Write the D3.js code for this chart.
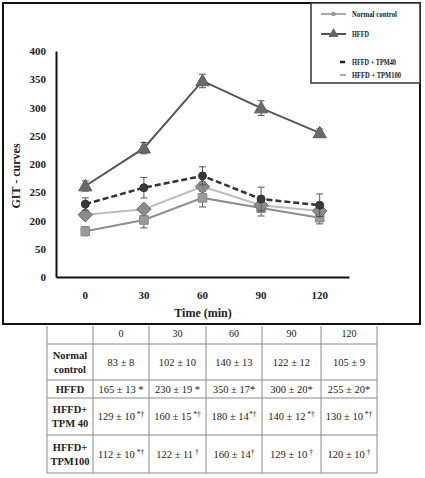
<!DOCTYPE html>
<html><head><meta charset="utf-8">
<script src="https://cdn.jsdelivr.net/npm/d3@7"></script>
<style>body{margin:0;background:#fff}svg{display:block}text{font-family:"Liberation Serif","Times New Roman",serif}</style>
</head><body><svg id="c" width="425" height="478"></svg>
<script>
const times = [0, 30, 60, 90, 120];
const timeLabels = ["0", "30", "60", "90", "120"];
const seriesNames = ["Normal control", "HFFD", "HFFD + TPM40", "HFFD + TPM100"];
const tableRowLabels = [["Normal", "control"], ["HFFD"], ["HFFD+", "TPM 40"], ["HFFD+", "TPM100"]];
// plotted points
const normalPlot = [81, 101, 140, 122, 105];
const normalPlotErr = [8, 14, 16, 14, 11];
const hffdPlot = [161, 228, 347, 299, 255];
const hffdPlotErr = [9, 10, 12, 13, 7];
const tpm40Plot = [129, 158, 179, 138, 127];
const tpm40PlotErr = [11, 18, 16, 21, 20];
const tpm100Plot = [110, 120, 160, 127, 117];
const tpm100PlotErr = [6, 6, 8, 7, 6];
// table values
const normalMean = [83, 102, 140, 122, 105];
const normalErr = [8, 10, 13, 12, 9];
const hffdMean = [165, 230, 350, 300, 255];
const hffdErr = [13, 19, 17, 20, 20];
const tpm40Mean = [129, 160, 180, 140, 130];
const tpm40Err = [10, 15, 14, 12, 10];
const tpm100Mean = [112, 122, 160, 129, 120];
const tpm100Err = [10, 11, 14, 10, 10];
const normalMarks = ["", "", "", "", ""];
const hffdMarks = [" *", " *", "*", "*", "*"];
const tpm40Marks = [" *†", " *†", "*†", " *†", " *†"];
const tpm100Marks = [" *†", " †", "†", " †", " †"];
const yTickValues = [0, 50, 100, 150, 200, 250, 300, 350, 400];
const yTickLabels = ["0", "50", "200", "250", "200", "250", "300", "350", "400"];

const svg = d3.select("#c");
svg.append("rect").attr("width", 425).attr("height", 478).attr("fill", "#fff");

// outer frame
svg.append("rect").attr("x", 3).attr("y", 3).attr("width", 417).attr("height", 321)
  .attr("fill", "none").attr("stroke", "#111").attr("stroke-width", 2);

const x = d3.scaleBand().domain(times).range([56, 349]).padding(0);
const cx = t => x(t) + x.bandwidth() / 2;
const y = d3.scaleLinear().domain([0, 400]).range([277, 51]);

// axes
const yAxis = d3.axisLeft(y).tickValues(yTickValues).tickSize(0).tickPadding(10)
  .tickFormat((d, i) => yTickLabels[i]);
const gy = svg.append("g").attr("transform", "translate(56,0)").call(yAxis);
gy.select(".domain").attr("stroke", "#111").attr("stroke-width", 2);
gy.selectAll("text").attr("font-size", 11).attr("font-weight", "bold").attr("fill", "#222");

const xAxis = d3.axisBottom(x).tickSize(0).tickPadding(14).tickFormat((d, i) => timeLabels[i]);
const gx = svg.append("g").attr("transform", "translate(0,277)").call(xAxis);
gx.select(".domain").attr("stroke", "#111").attr("stroke-width", 2);
gx.selectAll("text").attr("font-size", 11).attr("font-weight", "bold").attr("fill", "#222");

svg.append("text").attr("x", 203).attr("y", 317).attr("text-anchor", "middle")
  .attr("font-size", 12).attr("font-weight", "bold").attr("fill", "#222").text("Time (min)");
svg.append("text").attr("transform", "translate(20,176) rotate(-90)").attr("text-anchor", "middle")
  .attr("font-size", 12).attr("font-weight", "bold").attr("fill", "#222").text("GIT - curves");

const series = [
  {mean: normalPlot, err: normalPlotErr, line: "#8e8e8e", dash: null, w: 2, marker: "square", fill: "#9a9a9a", stroke: "#8a8a8a"},
  {mean: tpm100Plot, err: tpm100PlotErr, line: "#bdbdbd", dash: null, w: 2, marker: "diamond", fill: "#8c8c8c", stroke: "#6a6a6a"},
  {mean: tpm40Plot, err: tpm40PlotErr, line: "#333", dash: "6,3", w: 2.5, marker: "circle", fill: "#3a3a3a", stroke: "#333"},
  {mean: hffdPlot, err: hffdPlotErr, line: "#555", dash: null, w: 2, marker: "triangle", fill: "#6a6a6a", stroke: "#5a5a5a"}
];

const line = d3.line().x((d, i) => cx(times[i])).y(d => y(d));
const symbolFor = {
  square: d3.symbol().type(d3.symbolSquare).size(75),
  diamond: d3.symbol().type(d3.symbolDiamond2).size(130),
  circle: d3.symbol().type(d3.symbolCircle).size(50),
  triangle: d3.symbol().type(d3.symbolTriangle).size(75)
};

series.forEach(s => {
  const g = svg.append("g");
  s.mean.forEach((m, i) => {
    const xx = cx(times[i]);
    const y1 = y(m + s.err[i]), y2 = y(m - s.err[i]);
    g.append("line").attr("x1", xx).attr("x2", xx).attr("y1", y1).attr("y2", y2).attr("stroke", "#555").attr("stroke-width", 1);
    [y1, y2].forEach(yy => g.append("line").attr("x1", xx - 3.5).attr("x2", xx + 3.5).attr("y1", yy).attr("y2", yy).attr("stroke", "#555").attr("stroke-width", 1));
  });
  g.append("path").attr("d", line(s.mean)).attr("fill", "none").attr("stroke", s.line)
    .attr("stroke-width", s.w).attr("stroke-dasharray", s.dash);
  s.mean.forEach((m, i) => {
    g.append("path").attr("d", symbolFor[s.marker]()).attr("transform", `translate(${cx(times[i])},${y(m) + (s.marker === "triangle" ? 1 : 0)})`)
      .attr("fill", s.fill).attr("stroke", s.stroke).attr("stroke-width", 1);
  });
});

// legend
const lg = svg.append("g");
lg.append("rect").attr("x", 311).attr("y", 3).attr("width", 109).attr("height", 80)
  .attr("fill", "#fff").attr("stroke", "#333").attr("stroke-width", 1.5);
const legendY = [14, 34, 62, 75];
const legendStyle = [
  {x1: 321, x2: 346, color: "#aaa", w: 2, marker: "square", mfill: "#999"},
  {x1: 321, x2: 346, color: "#555", w: 2, marker: "triangle", mfill: "#666"},
  {x1: 340, x2: 345, color: "#222", w: 2.5, marker: null},
  {x1: 340, x2: 346, color: "#aaa", w: 2, marker: null}
];
const legendLens = [45, 17, 44, 49];
seriesNames.forEach((n, i) => {
  const st = legendStyle[i];
  lg.append("line").attr("x1", st.x1).attr("x2", st.x2).attr("y1", legendY[i]).attr("y2", legendY[i])
    .attr("stroke", st.color).attr("stroke-width", st.w);
  if (st.marker) {
    const sz = st.marker === "square" ? 14 : 45;
    lg.append("path").attr("d", d3.symbol().type(st.marker === "square" ? d3.symbolSquare : d3.symbolTriangle).size(sz)())
      .attr("transform", `translate(333.5,${legendY[i]})`).attr("fill", st.mfill);
  }
  lg.append("text").attr("x", 352).attr("y", legendY[i] + 3).attr("font-size", 8.5)
    .attr("font-weight", "bold").attr("fill", "#222").text(n)
    .attr("textLength", legendLens[i]).attr("lengthAdjust", "spacingAndGlyphs");
});

// table
const colEdges = [47, 93, 149, 206, 262, 321, 377];
const rowEdges = [326, 344, 380, 398, 435, 473];
const tg = svg.append("g");
colEdges.forEach(cxv => tg.append("line").attr("x1", cxv).attr("x2", cxv).attr("y1", rowEdges[0]).attr("y2", rowEdges[rowEdges.length - 1]).attr("stroke", "#8a8a8a").attr("stroke-width", 1));
rowEdges.slice(1).forEach(ry => tg.append("line").attr("x1", colEdges[0]).attr("x2", colEdges[colEdges.length - 1]).attr("y1", ry).attr("y2", ry).attr("stroke", "#8a8a8a").attr("stroke-width", 1));

timeLabels.forEach((lab, j) => {
  tg.append("text").attr("x", (colEdges[j + 1] + colEdges[j + 2]) / 2).attr("y", rowEdges[0] + 11)
    .attr("text-anchor", "middle").attr("font-size", 10).attr("fill", "#222").text(lab);
});
const tableData = [
  {mean: normalMean, err: normalErr, marks: normalMarks},
  {mean: hffdMean, err: hffdErr, marks: hffdMarks},
  {mean: tpm40Mean, err: tpm40Err, marks: tpm40Marks},
  {mean: tpm100Mean, err: tpm100Err, marks: tpm100Marks}
];
tableData.forEach((row, r) => {
  const top = rowEdges[r + 1], bot = rowEdges[r + 2], mid = (top + bot) / 2;
  const labLines = tableRowLabels[r];
  labLines.forEach((l, k) => {
    tg.append("text").attr("x", (colEdges[0] + colEdges[1]) / 2)
      .attr("y", mid + 3.5 + (k - (labLines.length - 1) / 2) * 14)
      .attr("text-anchor", "middle").attr("font-size", 10.5).attr("font-weight", "bold").attr("fill", "#222").text(l);
  });
  row.mean.forEach((m, j) => {
    const t = tg.append("text").attr("x", (colEdges[j + 1] + colEdges[j + 2]) / 2).attr("y", mid + 3.5)
      .attr("text-anchor", "middle").attr("font-size", 10.5).attr("fill", "#222");
    t.append("tspan").text(`${m} ± ${row.err[j]}`);
    const mk = row.marks[j];
    if (mk) {
      if (mk.includes("†")) {
        t.append("tspan").attr("font-size", 7.5).attr("dy", -3).text(mk);
      } else {
        t.append("tspan").text(mk);
      }
    }
  });
});
</script></body></html>
